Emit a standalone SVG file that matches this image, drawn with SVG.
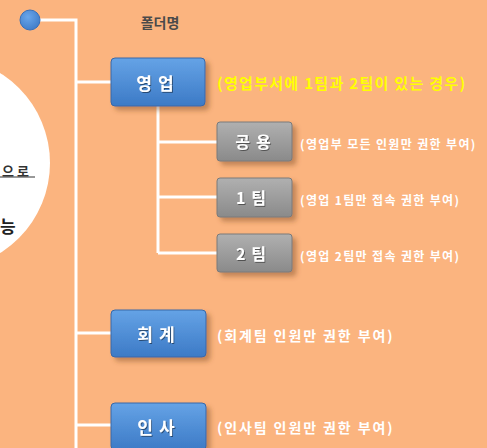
<svg xmlns="http://www.w3.org/2000/svg" width="487" height="448" viewBox="0 0 487 448">
<defs>
<linearGradient id="blue" x1="0" y1="0" x2="0" y2="1">
<stop offset="0" stop-color="#65a3e6"/><stop offset="1" stop-color="#3c7ac6"/>
</linearGradient>
<linearGradient id="gray" x1="0" y1="0" x2="0" y2="1">
<stop offset="0" stop-color="#b0b0b0"/><stop offset="1" stop-color="#8a8a8a"/>
</linearGradient>
<radialGradient id="dot" cx="0.4" cy="0.35" r="0.7">
<stop offset="0" stop-color="#6aa6ea"/><stop offset="1" stop-color="#3f7cc8"/>
</radialGradient>
<filter id="sh" x="-20%" y="-20%" width="150%" height="160%">
<feDropShadow dx="4" dy="4" stdDeviation="2.5" flood-color="#7a4a20" flood-opacity="0.45"/>
</filter>
<filter id="tsh" x="-20%" y="-30%" width="140%" height="160%">
<feDropShadow dx="1" dy="1" stdDeviation="0.6" flood-color="#000" flood-opacity="0.45"/>
</filter>
</defs>
<style>
text{font-family:"Noto Sans CJK KR","Noto Sans",sans-serif;font-weight:bold}
.box-b{fill:url(#blue);stroke:#3868a8;stroke-width:1}
.box-g{fill:url(#gray);stroke:#7a7a7a;stroke-width:1}
.lbl{fill:#fff;font-size:17px;text-anchor:middle;dominant-baseline:central;letter-spacing:6px}
.gl{fill:#fff;font-size:16px;text-anchor:middle;dominant-baseline:central;letter-spacing:6px}
.note{fill:#fff;font-size:12px;dominant-baseline:central;letter-spacing:1.35px}
.note2{fill:#fff;font-size:14px;dominant-baseline:central;letter-spacing:1.9px}
.conn{stroke:#fff;stroke-width:3;fill:none}
</style>
<rect width="487" height="448" fill="#fbb47f"/>
<circle cx="-56" cy="163" r="106" fill="#fff"/>
<text x="2" y="170" font-size="13" fill="#333" font-weight="normal" dominant-baseline="central" letter-spacing="3">으로</text>
<line x1="0" y1="177" x2="35" y2="177" stroke="#333" stroke-width="1"/>
<text x="0" y="225" font-size="17" fill="#222" dominant-baseline="central">능</text>
<g id="connectors" class="conn">
<path d="M30 20H76V448"/>
<path d="M76 82H111"/>
<path d="M76 333H111"/>
<path d="M76 425H111"/>
<path d="M158 106V253"/>
<path d="M158 142H217"/>
<path d="M158 197H217"/>
<path d="M158 253H217"/>
</g>
<g id="root">
<circle cx="30" cy="20" r="10" fill="url(#dot)" stroke="#3a70b8" stroke-width="1"/>
<text x="160" y="22" font-size="14" fill="#4a4a4a" text-anchor="middle" dominant-baseline="central">폴더명</text>
</g>
<g id="sales">
<rect class="box-b" x="111" y="58" width="94" height="48" rx="4" filter="url(#sh)"/>
<text class="lbl" x="158" y="82" filter="url(#tsh)">영업</text>
<text x="217" y="82" font-size="15" fill="#ffff00" dominant-baseline="central" letter-spacing="1.3">(영업부서에 1팀과 2팀이 있는 경우)</text>
</g>
<g id="common">
<rect class="box-g" x="217" y="122" width="75" height="39" rx="3" filter="url(#sh)"/>
<text class="gl" x="256" y="141" filter="url(#tsh)">공용</text>
<text class="note" x="300" y="143">(영업부 모든 인원만 권한 부여)</text>
</g>
<g id="team1">
<rect class="box-g" x="217" y="178" width="75" height="39" rx="3" filter="url(#sh)"/>
<text class="gl" x="254" y="197" filter="url(#tsh)" letter-spacing="3">1팀</text>
<text class="note" x="300" y="199">(영업 1팀만 접속 권한 부여)</text>
</g>
<g id="team2">
<rect class="box-g" x="217" y="234" width="75" height="38" rx="3" filter="url(#sh)"/>
<text class="gl" x="254" y="253" filter="url(#tsh)" letter-spacing="3">2팀</text>
<text class="note" x="300" y="255">(영업 2팀만 접속 권한 부여)</text>
</g>
<g id="accounting">
<rect class="box-b" x="111" y="310" width="95" height="47" rx="4" filter="url(#sh)"/>
<text class="lbl" x="159" y="333" filter="url(#tsh)">회계</text>
<text class="note2" x="217" y="335">(회계팀 인원만 권한 부여)</text>
</g>
<g id="hr">
<rect class="box-b" x="111" y="403" width="95" height="47" rx="4" filter="url(#sh)"/>
<text class="lbl" x="159" y="426" filter="url(#tsh)">인사</text>
<text class="note2" x="217" y="427">(인사팀 인원만 권한 부여)</text>
</g>
</svg>
